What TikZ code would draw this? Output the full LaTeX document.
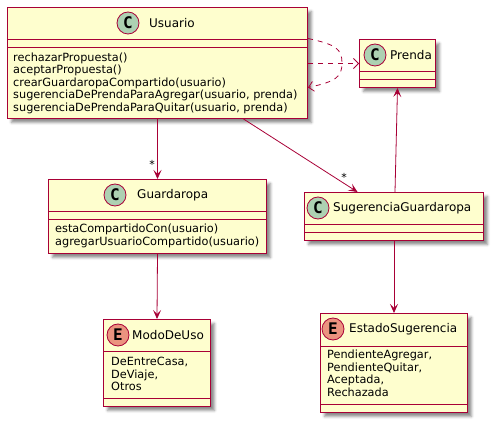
\documentclass[tikz,border=0pt]{standalone}
\usepackage{fontspec}
\setmainfont{DejaVu Sans}
\newfontfamily\circfont{DejaVu Sans Mono}
\usetikzlibrary{calc,arrows.meta,shadows.blur}
\definecolor{umlborder}{HTML}{A80036}
\definecolor{umlfill}{HTML}{FEFECE}
\definecolor{classmark}{HTML}{ADD1B2}
\definecolor{enummark}{HTML}{EB937F}
\tikzset{
  classbox/.style={draw=umlborder, fill=umlfill, line width=1pt, anchor=north west,
    inner sep=0pt, blur shadow={shadow xshift=4pt, shadow yshift=-4pt,
    shadow blur radius=2.5pt, shadow opacity=45}},
  sepline/.style={draw=umlborder, line width=0.8pt},
  markc/.style={circle, draw=umlborder, fill=classmark, line width=0.8pt, minimum size=22pt,
    inner sep=0pt, font=\circfont\bfseries\fontsize{16}{16}\selectfont},
  marke/.style={markc, fill=enummark},
  cname/.style={anchor=west, inner sep=0pt, font=\fontsize{12}{14}\selectfont},
  members/.style={anchor=north west, inner sep=0pt, align=left,
    font=\fontsize{11.3}{12.5}\selectfont},
  mult/.style={inner sep=0pt, font=\fontsize{11}{12}\selectfont},
  assoc/.style={draw=umlborder, line width=0.8pt,
    -{Stealth[length=9pt,width=8pt,inset=4pt]}},
  depend/.style={draw=umlborder, line width=0.8pt, dash pattern=on 5pt off 5pt,
    -{Straight Barb[length=5pt,width=10pt]}}
}
\begin{document}
\begin{tikzpicture}[x=1pt,y=-1pt]
\useasboundingbox (0,0) rectangle (496,425);

% Usuario
\node[classbox, minimum width=300pt, minimum height=111pt] (usuario) at (7,7) {};
\draw[sepline] ($(usuario.north west)+(0,32)$) -- ($(usuario.north east)+(0,32)$);
\draw[sepline] ($(usuario.north west)+(0,40)$) -- ($(usuario.north east)+(0,40)$);
\node[markc] (usuarioC) at (128,23) {C};
\node[cname] (usuarioN) at (149,23) {Usuario};
\node[members] (usuarioM) at (13,52.5) {rechazarPropuesta()\\aceptarPropuesta()\\crearGuardaropaCompartido(usuario)\\sugerenciaDePrendaParaAgregar(usuario, prenda)\\sugerenciaDePrendaParaQuitar(usuario, prenda)};

% Prenda
\node[classbox, minimum width=76pt, minimum height=48pt] (prenda) at (359,39) {};
\draw[sepline] ($(prenda.north west)+(0,32)$) -- ($(prenda.north east)+(0,32)$);
\draw[sepline] ($(prenda.north west)+(0,40)$) -- ($(prenda.north east)+(0,40)$);
\node[markc] (prendaC) at (375,55) {C};
\node[cname] (prendaN) at (390,55) {Prenda};

% Guardaropa
\node[classbox, minimum width=218pt, minimum height=74pt] (guard) at (48,179) {};
\draw[sepline] ($(guard.north west)+(0,32)$) -- ($(guard.north east)+(0,32)$);
\draw[sepline] ($(guard.north west)+(0,40)$) -- ($(guard.north east)+(0,40)$);
\node[markc] (guardC) at (115,195) {C};
\node[cname] (guardN) at (137,195) {Guardaropa};
\node[members] (guardM) at (55,224) {estaCompartidoCon(usuario)\\agregarUsuarioCompartido(usuario)};

% ModoDeUso
\node[classbox, minimum width=107pt, minimum height=87pt] (modo) at (103,319) {};
\draw[sepline] ($(modo.north west)+(0,32)$) -- ($(modo.north east)+(0,32)$);
\draw[sepline] ($(modo.north west)+(0,79)$) -- ($(modo.north east)+(0,79)$);
\node[marke] (modoE) at (118,335) {E};
\node[cname] (modoN) at (132,335) {ModoDeUso};
\node[members] (modoM) at (111,357) {DeEntreCasa,\\DeViaje,\\Otros};

% SugerenciaGuardaropa
\node[classbox, minimum width=179pt, minimum height=48pt] (sug) at (304,192) {};
\draw[sepline] ($(sug.north west)+(0,32)$) -- ($(sug.north east)+(0,32)$);
\draw[sepline] ($(sug.north west)+(0,40)$) -- ($(sug.north east)+(0,40)$);
\node[markc] (sugC) at (318,208) {C};
\node[cname] (sugN) at (333,208) {SugerenciaGuardaropa};

% EstadoSugerencia
\node[classbox, minimum width=147pt, minimum height=99pt] (estado) at (320,313) {};
\draw[sepline] ($(estado.north west)+(0,33)$) -- ($(estado.north east)+(0,33)$);
\draw[sepline] ($(estado.north west)+(0,91)$) -- ($(estado.north east)+(0,91)$);
\node[marke] (estadoE) at (333,329) {E};
\node[cname] (estadoN) at (349,329) {EstadoSugerencia};
\node[members] (estadoM) at (327,350) {PendienteAgregar,\\PendienteQuitar,\\Aceptada,\\Rechazada};

% Associations
\draw[assoc] (usuario.south) -- (guard.north);
\node[mult] (m1) at (152,164) {*};
\draw[assoc] ([xshift=86pt]usuario.south) -- ([xshift=-36.5pt]sug.north);
\node[mult] (m2) at (344,177) {*};
\draw[assoc] (guard.south) -- (modo.north);
\draw[assoc] ([xshift=1pt]sug.north) -- ([xshift=0pt]prenda.south);
\draw[assoc] (sug.south) -- (estado.north);

% Dependencies
\draw[depend] (usuario.east |- prenda.west) -- (prenda.west);
\coordinate (loopmid) at (342,63);
\draw[depend] ([yshift=24.5pt]usuario.east) .. controls +(28,6) and +(0,-14) .. (loopmid)
  .. controls +(0,14) and +(28,-6) .. ([yshift=-24.5pt]usuario.east);
\end{tikzpicture}
\end{document}
